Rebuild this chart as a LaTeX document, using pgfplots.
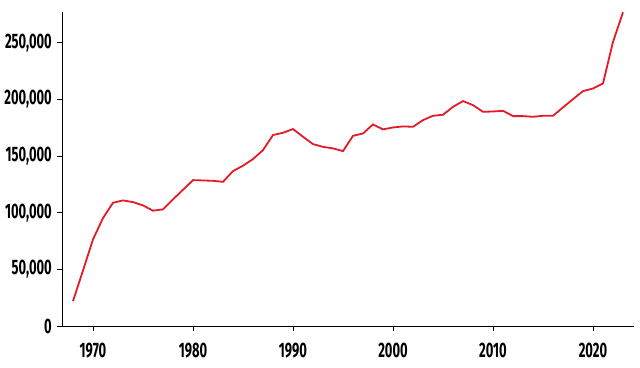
\documentclass[border=0pt]{standalone}
\usepackage{fontspec}
\setmainfont{Fira Sans}[FakeStretch=0.62]
\usepackage{pgfplots}
\pgfplotsset{compat=1.18}
\definecolor{linered}{RGB}{227,26,40}
\begin{document}
\begin{tikzpicture}[x=1bp,y=1bp]
\useasboundingbox (-62,-41) rectangle (578,326);
\begin{axis}[
  at={(0,0)}, anchor=south west,
  scale only axis, width=572bp, height=314.3bp,
  xmin=1966.9, xmax=2024.1, ymin=0, ymax=277500,
  axis lines*=left,
  axis line style={black, line width=0.8bp},
  every tick/.style={black, line width=0.8bp},
  tick align=outside, major tick length=5bp,
  xtick={1970,1980,1990,2000,2010,2020},
  xticklabels={1970,1980,1990,2000,2010,2020},
  ytick={0,50000,100000,150000,200000,250000},
  yticklabels={0,{50,000},{100,000},{150,000},{200,000},{250,000}},
  scaled y ticks=false,
  xticklabel style={font=\fontsize{21}{22}\selectfont\bfseries, inner sep=0pt, yshift=-12bp},
  yticklabel style={font=\fontsize{21}{22}\selectfont\bfseries, inner sep=0pt, xshift=-5bp},
  clip=false,
]
\addplot[linered, line width=1.8bp] coordinates {
(1968,22000) (1969,49000) (1970,76500) (1971,95300) (1972,108800) (1973,110900)
(1974,109400) (1975,106500) (1976,101800) (1977,103000) (1978,111800) (1979,120300)
(1980,128800) (1981,128500) (1982,128200) (1983,127300) (1984,136800) (1985,141500)
(1986,147400) (1987,155300) (1988,168600) (1989,170600) (1990,173900) (1991,167100)
(1992,160600) (1993,158200) (1994,156800) (1995,154400) (1996,167900) (1997,170000)
(1998,178000) (1999,173600) (2000,175300) (2001,176200) (2002,175900) (2003,181800)
(2004,185600) (2005,186500) (2006,193500) (2007,198600) (2008,195000) (2009,189100)
(2010,189400) (2011,190000) (2012,185300) (2013,185300) (2014,184700) (2015,185600)
(2016,185600) (2017,193000) (2018,200300) (2019,207400) (2020,209700) (2021,214200)
(2022,250900) (2023,277000)
};
\end{axis}
\end{tikzpicture}
\end{document}
